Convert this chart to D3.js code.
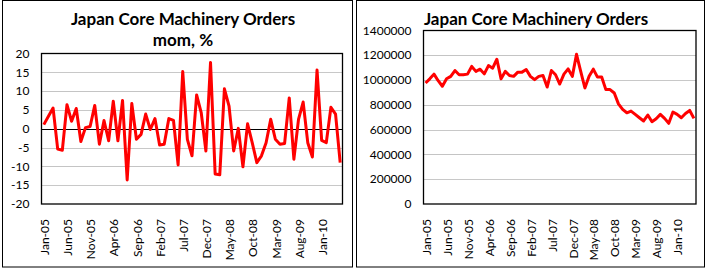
<!DOCTYPE html>
<html>
<head>
<meta charset="utf-8">
<script src="https://cdn.jsdelivr.net/npm/d3@7"></script>
<style>
  body { margin: 0; background: #fff; }
  text { font-family: Lato, "Open Sans", sans-serif; fill: #000; }
</style>
</head>
<body>
<div id="vis-container"></div>
<script>
// ------------------------------ DATA ------------------------------ //
// Monthly, Jan-05 .. May-10 (65 months)
const months = d3.timeMonths(new Date(2005, 0, 1), new Date(2010, 5, 1));

// Month-on-month change, %
const momValues = [
  1.1, 3.3, 5.5, -5.4, -5.7, 6.4, 2.0, 5.4, -3.4, 0.3,
  0.6, 6.2, -4.1, 2.2, -3.2, 7.3, -3.2, 7.5, -13.6, 6.7,
  -2.8, -1.5, 3.9, -0.2, 2.7, -4.3, -4.1, 2.7, 2.2, -9.6,
  15.2, -2.8, -7.2, 9.0, 4.2, -5.9, 17.6, -12.0, -12.2, 10.6,
  6.0, -5.9, 0.1, -10.1, 1.3, -3.7, -9.0, -7.2, -3.7, 2.5,
  -2.8, -4.1, -3.9, 8.2, -8.1, 2.5, 7.1, -3.7, -7.5, 15.6,
  -3.1, -3.7, 5.7, 3.9, -9.0
];

// Level of orders
const levelValues = [
  976000, 1010000, 1048000, 995000, 950000, 1010000, 1030000, 1077000, 1043000, 1043000,
  1048000, 1110000, 1070000, 1088000, 1050000, 1117000, 1096000, 1168000, 1010000, 1070000,
  1037000, 1030000, 1064000, 1064000, 1085000, 1030000, 1003000, 1030000, 1037000, 944000,
  1077000, 1043000, 968000, 1048000, 1090000, 1030000, 1208000, 1070000, 936000, 1030000,
  1088000, 1024000, 1024000, 923000, 923000, 896000, 808000, 763000, 736000, 750000,
  723000, 696000, 670000, 718000, 664000, 688000, 723000, 691000, 651000, 742000,
  723000, 696000, 730000, 755000, 691000
];

// Category labels shown (every 5th month)
const tickLabels = ["Jan-05", "Jun-05", "Nov-05", "Apr-06", "Sep-06", "Feb-07", "Jul-07",
  "Dec-07", "May-08", "Oct-08", "Mar-09", "Aug-09", "Jan-10"];

const momTicks = [20, 15, 10, 5, 0, -5, -10, -15, -20];
const levelTicks = [1400000, 1200000, 1000000, 800000, 600000, 400000, 200000, 0];

// ------------------------------ SET UP ------------------------------ //
const width = 706;
const height = 269;

const svg = d3.select("#vis-container")
  .append("svg")
  .attr("width", width)
  .attr("height", height);

const fmtMonth = d3.timeFormat("%b-%y");

// ------------------------------ EXECUTION ------------------------------ //
drawPanel({
  box: [2.5, 0.5, 350, 266.5],
  plot: { left: 41.5, right: 342.5, top: 53.5, bottom: 204 },
  titles: [["Japan Core Machinery Orders", 25], ["mom, %", 46]],
  titleX: 183,
  values: momValues,
  domain: [-20, 20],
  ticks: momTicks,
  solidGrid: [15, 5, -5, -15],
  dottedGrid: [10, -10],
  zeroLine: true
});

drawPanel({
  box: [356.5, 0.5, 348, 266.5],
  plot: { left: 423.5, right: 696, top: 30.5, bottom: 204 },
  titles: [["Japan Core Machinery Orders", 25]],
  titleX: 536,
  values: levelValues,
  domain: [0, 1400000],
  ticks: levelTicks,
  solidGrid: [1000000, 600000, 200000],
  dottedGrid: [1200000, 800000, 400000],
  zeroLine: false
});

// ------------------------------ FUNCTIONS ------------------------------ //

/**
 * Draws one boxed line chart.
 */
function drawPanel(cfg) {
  const p = cfg.plot;
  const g = svg.append("g");

  // Outer chart box
  g.append("rect")
    .attr("x", cfg.box[0]).attr("y", cfg.box[1])
    .attr("width", cfg.box[2]).attr("height", cfg.box[3])
    .attr("fill", "#fff")
    .attr("stroke", "#000")
    .attr("stroke-width", 1);

  // Titles
  cfg.titles.forEach(([t, y]) => {
    g.append("text")
      .attr("x", cfg.titleX)
      .attr("y", y)
      .attr("text-anchor", "middle")
      .attr("font-size", "17px")
      .attr("font-weight", "bold")
      .text(t);
  });

  const x = d3.scaleBand()
    .domain(d3.range(cfg.values.length))
    .range([p.left, p.right]);

  const y = d3.scaleLinear()
    .domain(cfg.domain)
    .range([p.bottom, p.top]);

  // Gridlines
  g.selectAll(".solid-grid")
    .data(cfg.solidGrid)
    .enter()
    .append("line")
    .attr("x1", p.left).attr("x2", p.right)
    .attr("y1", d => Math.round(y(d)) + 0.5)
    .attr("y2", d => Math.round(y(d)) + 0.5)
    .attr("stroke", "#c8c8c8")
    .attr("stroke-width", 1);

  g.selectAll(".dotted-grid")
    .data(cfg.dottedGrid)
    .enter()
    .append("line")
    .attr("x1", p.left).attr("x2", p.right)
    .attr("y1", d => Math.round(y(d)) + 0.5)
    .attr("y2", d => Math.round(y(d)) + 0.5)
    .attr("stroke", "#888")
    .attr("stroke-width", 1)
    .attr("stroke-dasharray", "1,1");

  if (cfg.zeroLine) {
    g.append("line")
      .attr("x1", p.left).attr("x2", p.right)
      .attr("y1", Math.round(y(0)) + 0.5)
      .attr("y2", Math.round(y(0)) + 0.5)
      .attr("stroke", "#000")
      .attr("stroke-width", 1.2);
  }

  // Plot area frame
  g.append("rect")
    .attr("x", p.left).attr("y", p.top)
    .attr("width", p.right - p.left).attr("height", p.bottom - p.top)
    .attr("fill", "none")
    .attr("stroke", "#000")
    .attr("stroke-width", 1.3);

  // Y axis labels
  g.selectAll(".ylab")
    .data(cfg.ticks)
    .enter()
    .append("text")
    .attr("x", p.left - 12)
    .attr("y", d => y(d))
    .attr("dy", "0.35em")
    .attr("text-anchor", "end")
    .attr("font-size", "12px")
    .text(d => d);

  // X axis labels (rotated), every 5th month
  const labelled = tickLabels.map(l => months.findIndex(m => fmtMonth(m) === l));
  g.selectAll(".xlab")
    .data(labelled)
    .enter()
    .append("text")
    .attr("transform", i => `translate(${x(i) + x.bandwidth() / 2 + 1},${p.bottom + 15}) rotate(-90)`)
    .attr("dy", "0.35em")
    .attr("text-anchor", "end")
    .attr("font-size", "12px")
    .text(i => fmtMonth(months[i]));

  // Series line
  const line = d3.line()
    .x((d, i) => x(i) + x.bandwidth() / 2)
    .y(d => y(d));

  g.append("path")
    .datum(cfg.values)
    .attr("d", line)
    .attr("fill", "none")
    .attr("stroke", "#ff0000")
    .attr("stroke-width", 3)
    .attr("stroke-linejoin", "round");
}
</script>
</body>
</html>
